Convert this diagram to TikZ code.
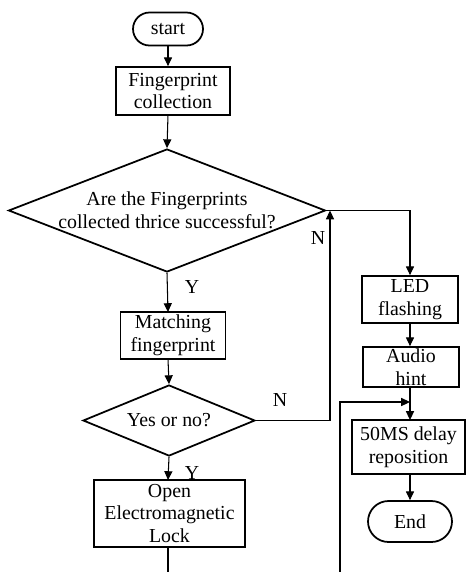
\documentclass[tikz,border=0pt]{standalone}
\usepackage{fontspec}
\setmainfont{Liberation Serif}
\usetikzlibrary{shapes.geometric, shapes.misc, arrows.meta}
\tikzset{
  flowbox/.style={draw, line width=1pt, rectangle, inner sep=0pt, align=center}
}
\tikzset{
  flowterm/.style={draw, line width=1pt, rounded rectangle, inner sep=0pt}
}
\tikzset{
  flowdec/.style={draw, line width=1pt, diamond, inner sep=0pt}
}
\tikzset{
  flowline/.style={line width=0.6pt, ->}
}

\begin{document}
\begin{tikzpicture}[x=0.02cm, y=-0.02cm, >={Triangle[length=5pt,width=4.6pt]},
    font=\fontsize{11.3}{13}\selectfont]
      \useasboundingbox (0,0) rectangle (466,572);
      % main column
      \node[flowterm, minimum width=1.4cm, minimum height=0.66cm] (start) at (168,29) {start};
      \node[flowbox, minimum width=2.28cm, minimum height=0.96cm] (collect) at (173,91) {Fingerprint\\ collection};
      \node[flowdec, minimum width=6.34cm, minimum height=2.46cm,
        label={[align=center]center:Are the Fingerprints\\ collected thrice successful?}] (thrice) at (167,210.5) {};
      \node[flowbox, minimum width=2.1cm, minimum height=0.94cm] (match) at (173,335.5) {Matching\\ fingerprint};
      \node[flowdec, minimum width=3.44cm, minimum height=1.42cm,
        label={center:Yes or no?}] (yesno) at (169,420.5) {};
      \node[flowbox, minimum width=3.02cm, minimum height=1.34cm] (lock) at (169.5,513.5) {Open\\ Electromagnetic\\ Lock};
      % right column
      \node[flowbox, minimum width=1.92cm, minimum height=0.94cm] (led) at (410,299.5) {LED\\ flashing};
      \node[flowbox, minimum width=1.92cm, minimum height=0.8cm] (audio) at (411,367) {Audio\\ hint};
      \node[flowbox, minimum width=2.26cm, minimum height=1.08cm] (delay) at (408.5,447) {50MS delay\\ reposition};
      \node[flowterm, minimum width=1.68cm, minimum height=0.82cm] (end) at (410,521.5) {End};
      % labels
      \node (yes1) at (192,287) {Y};
      \node (yes2) at (192,473) {Y};
      \node (no1) at (318,238) {N};
      \node (no2) at (280,400) {N};
      % free ends
      \coordinate (join) at (330,210.5);
      \coordinate (merge) at (410,402);
      \coordinate (down1) at (168,572);
      \coordinate (down2) at (340,572);

      \draw[flowline] (start.south) -- (start.south |- collect.north);
      \draw[flowline] (168,115) -- (thrice.north);
      \draw[flowline] (thrice.south) -- (168,312);
      \draw[flowline] (168,359) -- (yesno.north);
      \draw[flowline] (yesno.south) -- (168,480);
      \draw[line width=0.6pt] (168,547) -- (down1);
      \draw[flowline] (thrice.east) -| (led.north);
      \draw[flowline] (yesno.east) -| (join);
      \draw[flowline] (led.south) -- (led.south |- audio.north);
      \draw[flowline] (410,387) -- (410,420);
      \draw[flowline] (down2) |- (merge);
      \draw[flowline] (delay.south -| end.north) -- (end.north);
\end{tikzpicture}
\end{document}
